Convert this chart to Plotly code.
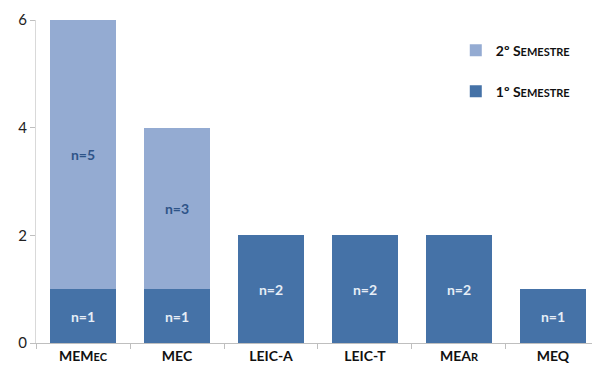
import plotly.graph_objects as go

courses = ["MEMEC", "MEC", "LEIC-A", "LEIC-T", "MEAR", "MEQ"]
course_labels = [
    "MEM<span style='font-size:11px'>EC</span>",
    "MEC",
    "LEIC-A",
    "LEIC-T",
    "MEA<span style='font-size:11px'>R</span>",
    "MEQ",
]
sem1 = [1, 1, 2, 2, 2, 1]
sem2 = [5, 3, 0, 0, 0, 0]

dark = "#4572A7"
light = "#94ABD2"
font_family = "Lato, 'Open Sans', sans-serif"

fig = go.Figure()
fig.add_trace(go.Bar(
    x=courses, y=sem1,
    name="1º S<span style='font-size:11px'>EMESTRE</span>",
    marker=dict(color=dark, line=dict(width=0)),
    text=[f"n={v}" for v in sem1],
    textposition="inside", insidetextanchor="middle",
    textfont=dict(color="#E6EDF6", size=14, family=font_family, weight="bold"),
    legendgroup="s1", legendrank=2,
))
fig.add_trace(go.Bar(
    x=courses, y=sem2,
    name="2º S<span style='font-size:11px'>EMESTRE</span>",
    marker=dict(color=light, line=dict(width=0)),
    text=[f"n={v}" if v else "" for v in sem2],
    textposition="inside", insidetextanchor="middle",
    textfont=dict(color="#2E5488", size=14, family=font_family, weight="bold"),
    legendgroup="s2", legendrank=1,
))

fig.update_layout(
    width=592, height=372,
    barmode="stack", bargap=0.3,
    paper_bgcolor="white", plot_bgcolor="white",
    margin=dict(l=36, r=0, t=20, b=29),
    font=dict(family=font_family, size=14, color="#222222"),
    showlegend=True,
    legend=dict(
        x=0.755, y=0.955, xanchor="left", yanchor="top",
        traceorder="grouped", tracegroupgap=20,
        font=dict(size=14, family=font_family, color="#111111", weight="bold"),
        itemwidth=30, bgcolor="rgba(0,0,0,0)",
    ),
    uniformtext=dict(minsize=8, mode="show"),
)
fig.update_xaxes(
    range=[-0.5, 5.415],
    tickvals=courses, ticktext=course_labels,
    tickson="boundaries", ticks="outside", ticklen=5, tickcolor="#BFBFBF",
    showline=True, linecolor="#BFBFBF", linewidth=1,
    showgrid=False, zeroline=False,
    tickfont=dict(size=14, family=font_family, color="#111111", weight="bold"),
)
fig.update_yaxes(
    range=[0, 6], tickvals=[0, 2, 4, 6],
    ticks="outside", ticklen=5, tickcolor="#BFBFBF",
    showline=True, linecolor="#D9D9D9", linewidth=1,
    showgrid=False, zeroline=False,
    tickfont=dict(size=15, family=font_family, color="#222222"),
)

fig.write_html("out.html")
